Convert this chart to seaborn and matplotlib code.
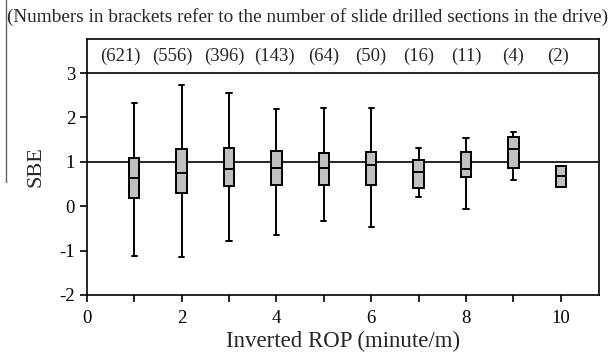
import matplotlib
matplotlib.use("Agg")
import matplotlib.pyplot as plt
import matplotlib.lines as mlines
import pandas as pd
import numpy as np
import seaborn as sns

# inverted ROP bins (minute/m)
rop = [1, 2, 3, 4, 5, 6, 7, 8, 9, 10]
counts = [621, 556, 396, 143, 64, 50, 16, 11, 4, 2]
# SBE box statistics
sbe_min = [-1.12, -1.15, -0.79, -0.64, -0.33, -0.46, 0.20, -0.07, 0.59, 0.44]
sbe_q1 = [0.18, 0.29, 0.45, 0.47, 0.47, 0.48, 0.42, 0.66, 0.87, 0.44]
sbe_med = [0.63, 0.75, 0.84, 0.86, 0.87, 0.92, 0.77, 0.84, 1.29, 0.68]
sbe_q3 = [1.08, 1.29, 1.31, 1.25, 1.20, 1.22, 1.04, 1.22, 1.55, 0.91]
sbe_max = [2.32, 2.73, 2.55, 2.18, 2.21, 2.21, 1.31, 1.54, 1.68, 0.91]

# five points per bin give exactly these quartiles and extremes
rows = []
for i, x in enumerate(rop):
    for v in (sbe_min[i], sbe_q1[i], sbe_med[i], sbe_q3[i], sbe_max[i]):
        rows.append({"rop": x, "sbe": v})
df = pd.DataFrame(rows)

sns.set_style("ticks")
plt.rcParams["font.family"] = ["Liberation Serif", "DejaVu Serif"]
plt.rcParams["axes.unicode_minus"] = False

fig = plt.figure(figsize=(6.16, 3.57), dpi=100)
ax = fig.add_axes([0.141, 0.174, 0.831, 0.717])

sns.boxplot(data=df, x="rop", y="sbe", native_scale=True, whis=(0, 100),
            width=0.22, color="#c0c0c0", linecolor="black", linewidth=1.4,
            saturation=1, ax=ax, showfliers=False)

ax.axhline(1, color="black", lw=1.2, zorder=1)
ax.axhline(3, color="black", lw=1.2, zorder=1)

# count labels sit a little left of their boxes on the left side
label_dx = [-0.3, -0.2, -0.1, -0.05, 0, 0, 0, 0, 0, -0.05]
for x, n, dx in zip(rop, counts, label_dx):
    ax.text(x + dx, 3.38, f"({n})", ha="center", va="center", fontsize=13.5)

ax.set_xlim(0, 10.8)
ax.set_ylim(-2, 3.77)
ax.set_xticks([0, 2, 4, 6, 8, 10])
ax.set_xticks([1, 3, 5, 7, 9], minor=True)
ax.set_yticks([-2, -1, 0, 1, 2, 3])
ax.tick_params(axis="both", which="both", direction="out", length=5,
               width=1.2, color="black", labelsize=13.5, labelcolor="black")
ax.tick_params(axis="x", pad=6)
for s in ax.spines.values():
    s.set_visible(True)
    s.set_color("black")
    s.set_linewidth(1.2)

ax.set_xlabel("Inverted ROP (minute/m)", fontsize=16.5, labelpad=3)
ax.set_ylabel("SBE", fontsize=16, labelpad=10)

fig.text(0.011, 0.952, "(Numbers in brackets refer to the number of slide drilled sections in the drive)",
         ha="left", va="center", fontsize=13.9)
fig.add_artist(mlines.Line2D([0.009, 0.009], [0.49, 1.0], color="#666666", lw=1,
                             transform=fig.transFigure))

fig.savefig("out.png", dpi=100)
